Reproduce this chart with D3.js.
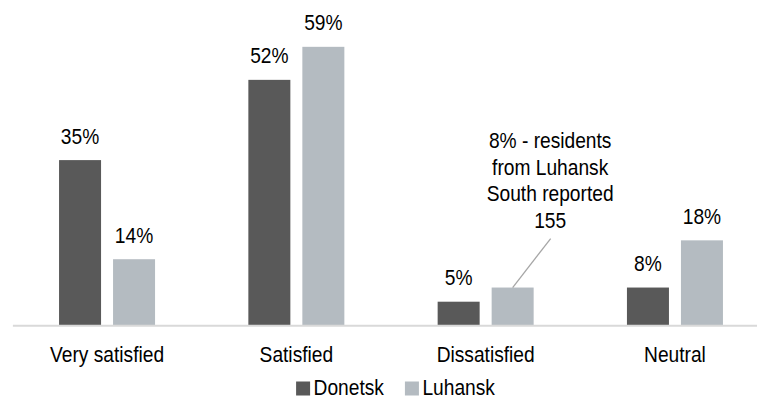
<!DOCTYPE html>
<html>
<head>
<meta charset="utf-8">
<script src="https://cdn.jsdelivr.net/npm/d3@7"></script>
<style>
  html, body { margin: 0; padding: 0; background: #fff; }
  svg { display: block; }
  text { font-family: "Liberation Sans", Arial, sans-serif; fill: #000; }
</style>
</head>
<body>
<svg id="chart" width="757" height="398"></svg>
<script>
// Satisfaction by oblast
const categories = ["Very satisfied", "Satisfied", "Dissatisfied", "Neutral"];
const seriesNames = ["Donetsk", "Luhansk"];
const donetsk = [0.35, 0.52, 0.05, 0.08];
const luhansk = [0.14, 0.59, 0.08, 0.18];
const seriesColors = ["#595959", "#b4bbc1"];
const calloutLines = ["8% - residents", "from Luhansk", "South reported", "155"];
const calloutCategory = "Dissatisfied";

const FONT = "22.7px";
const SX = 0.845; // horizontal squeeze for the narrow label face

const baseY = 325.3;
const svg = d3.select("#chart");

// draw text narrow: move x/y into a transform and scale horizontally
function squeeze(sel) {
  sel.each(function () {
    const t = d3.select(this);
    const x = +t.attr("x") || 0, y = +t.attr("y") || 0;
    t.attr("x", 0).attr("y", 0)
     .attr("transform", `translate(${x},${y}) scale(${SX},1)`);
  });
}

const x0 = d3.scaleBand().domain(categories).range([12.4, 769.6]).padding(0);
const bw = x0.bandwidth();
const x1 = d3.scaleBand().domain(seriesNames)
  .range([bw / 2 - 48, bw / 2 + 48]).paddingInner(12 / 54).paddingOuter(0);
const y = d3.scaleLinear().domain([0, 0.65]).range([baseY, baseY - 0.65 * 472]);
const color = d3.scaleOrdinal().domain(seriesNames).range(seriesColors);
const pct = d3.format(".0%");

const rows = categories.map((c, i) => ({
  category: c,
  values: [
    { series: "Donetsk", value: donetsk[i] },
    { series: "Luhansk", value: luhansk[i] }
  ]
}));

const groups = svg.append("g").selectAll("g")
  .data(rows).join("g")
  .attr("transform", d => `translate(${x0(d.category)},0)`);

groups.selectAll("rect")
  .data(d => d.values).join("rect")
  .attr("x", d => x1(d.series))
  .attr("y", d => y(d.value))
  .attr("width", x1.bandwidth())
  .attr("height", d => baseY - y(d.value))
  .attr("fill", d => color(d.series));

// value labels above bars (the Luhansk "Dissatisfied" value is given by the callout)
groups.selectAll("text.val")
  .data(d => d.values
    .filter(v => !(d.category === calloutCategory && v.series === "Luhansk")))
  .join("text")
  .attr("class", "val")
  .attr("x", d => x1(d.series) + x1.bandwidth() / 2)
  .attr("y", d => y(d.value) - 16.5)
  .attr("text-anchor", "middle")
  .style("font-size", FONT)
  .text(d => pct(d.value))
  .call(squeeze);

// category axis
const axis = svg.append("g")
  .attr("transform", `translate(0,${baseY})`)
  .call(d3.axisBottom(x0).tickSize(0));
axis.attr("font-family", null).attr("font-size", null);
axis.select(".domain").attr("stroke", "#d9d9d9").attr("stroke-width", 2);
axis.selectAll(".tick text")
  .attr("y", 36.4).attr("dy", null)
  .style("font-size", FONT)
  .attr("fill", "#000")
  .call(squeeze);

// callout for Luhansk dissatisfied
const ci = categories.indexOf(calloutCategory);
const barCx = x0(calloutCategory) + x1("Luhansk") + x1.bandwidth() / 2;
const barTop = y(luhansk[ci]);
const textCx = barCx + 37.5;
svg.append("line")
  .attr("x1", barCx).attr("y1", barTop)
  .attr("x2", textCx + 0.5).attr("y2", barTop - 49)
  .attr("stroke", "#a6a6a6").attr("stroke-width", 1.3);
svg.append("g").selectAll("text")
  .data(calloutLines).join("text")
  .attr("text-anchor", "middle")
  .style("font-size", FONT)
  .attr("x", textCx)
  .attr("y", (d, i) => barTop - 139.5 + i * 26.5)
  .text(d => d)
  .call(squeeze);

// legend
const legend = svg.append("g");
const items = legend.selectAll("g").data(seriesNames).join("g");
items.append("rect")
  .attr("width", 14).attr("height", 14)
  .attr("y", 381.5)
  .attr("fill", d => color(d));
items.append("text")
  .attr("x", 17.5).attr("y", 395)
  .style("font-size", FONT)
  .text(d => d)
  .call(squeeze);
let cursor = 0;
items.each(function () {
  const g = d3.select(this);
  const w = 17.5 + g.select("text").node().getComputedTextLength() * SX;
  g.attr("transform", `translate(${cursor},0)`);
  cursor += w + 21;
});
const legendW = cursor - 21;
legend.attr("transform", `translate(${395.5 - legendW / 2},0)`);
</script>
</body>
</html>
